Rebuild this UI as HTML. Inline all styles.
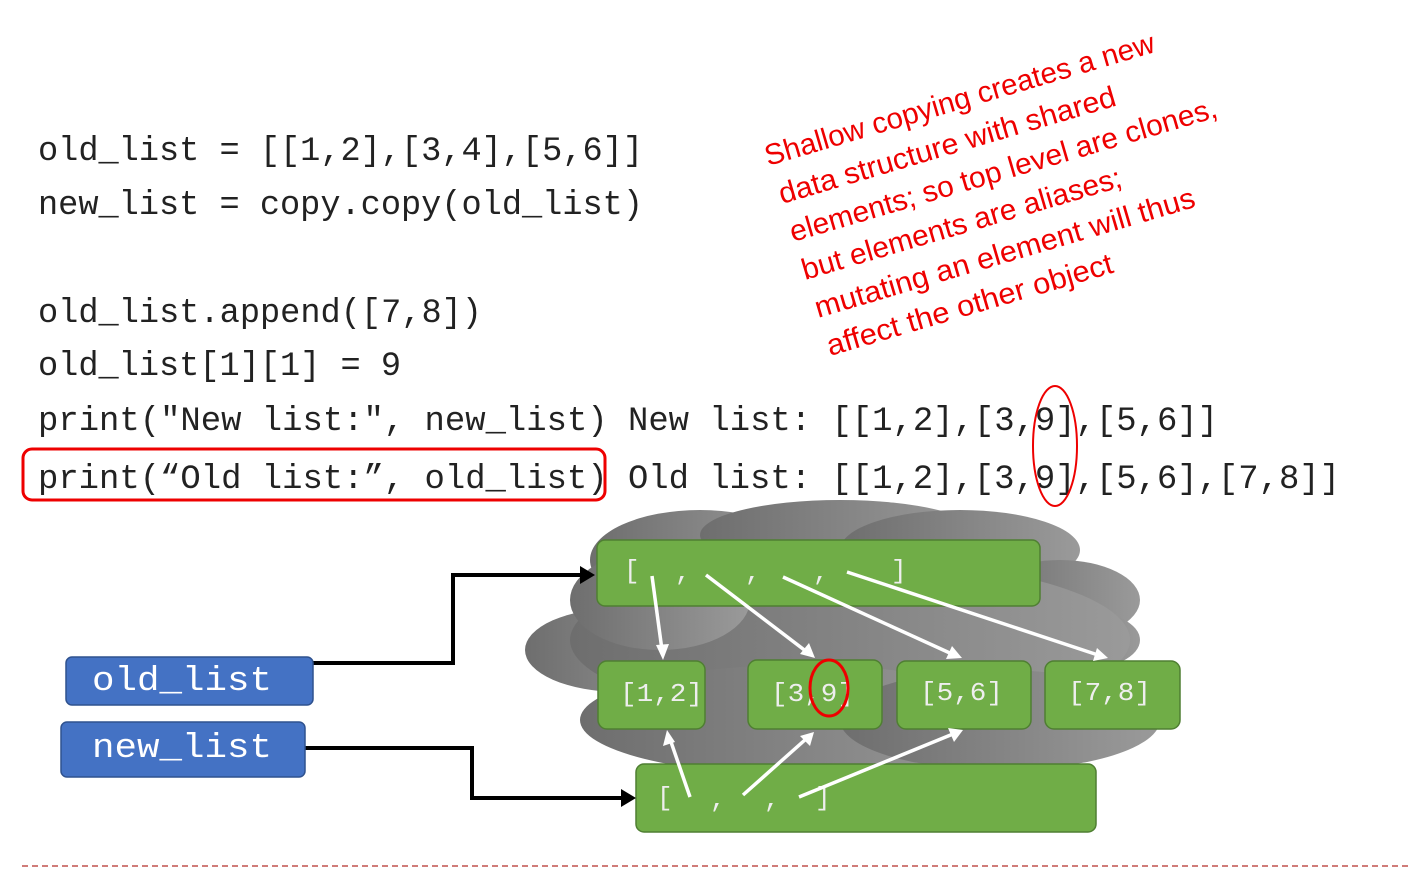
<!DOCTYPE html>
<html><head><meta charset="utf-8"><style>
html,body{margin:0;padding:0;background:#fff;}
svg{display:block;}
</style></head><body>
<svg width="1411" height="872" xmlns="http://www.w3.org/2000/svg">
<defs>
<linearGradient id="cg" x1="0" y1="0" x2="1" y2="0">
<stop offset="0" stop-color="#6e6e6e"/><stop offset="1" stop-color="#9a9a9a"/>
</linearGradient>
</defs>

<g font-family="Liberation Mono, monospace" font-size="33.9" fill="#222">
<text x="38" y="160" textLength="605" lengthAdjust="spacingAndGlyphs">old_list = [[1,2],[3,4],[5,6]]</text>
<text x="38" y="214" textLength="605" lengthAdjust="spacingAndGlyphs">new_list = copy.copy(old_list)</text>
<text x="38" y="322" textLength="444" lengthAdjust="spacingAndGlyphs">old_list.append([7,8])</text>
<text x="38" y="375" textLength="363" lengthAdjust="spacingAndGlyphs">old_list[1][1] = 9</text>
<text x="38" y="430" textLength="1180" lengthAdjust="spacingAndGlyphs">print("New list:", new_list) New list: [[1,2],[3,9],[5,6]]</text>
<text x="38" y="488" textLength="1302" lengthAdjust="spacingAndGlyphs">print(“Old list:”, old_list) Old list: [[1,2],[3,9],[5,6],[7,8]]</text>
</g>
<rect x="23" y="449" width="582" height="51" rx="9" fill="none" stroke="#e00" stroke-width="3"/>
<ellipse cx="1055" cy="446" rx="22" ry="60" fill="none" stroke="#e00" stroke-width="2"/>

<g font-family="Liberation Sans, sans-serif" font-size="29.5" fill="#e00">
<text transform="translate(768,166) rotate(-16.4)" textLength="405" lengthAdjust="spacingAndGlyphs">Shallow copying creates a new</text>
<text transform="translate(782,204) rotate(-16.4)" textLength="350" lengthAdjust="spacingAndGlyphs">data structure with shared</text>
<text transform="translate(793,242) rotate(-16.4)" textLength="444" lengthAdjust="spacingAndGlyphs">elements; so top level are clones,</text>
<text transform="translate(805,280) rotate(-16.4)" textLength="332" lengthAdjust="spacingAndGlyphs">but elements are aliases;</text>
<text transform="translate(818,318) rotate(-16.4)" textLength="395" lengthAdjust="spacingAndGlyphs">mutating an element will thus</text>
<text transform="translate(830,356) rotate(-16.4)" textLength="297" lengthAdjust="spacingAndGlyphs">affect the other object</text>
</g>

<!-- cloud -->
<g fill="url(#cg)">
<ellipse cx="700" cy="560" rx="110" ry="50"/>
<ellipse cx="840" cy="535" rx="140" ry="35"/>
<ellipse cx="960" cy="550" rx="120" ry="40"/>
<ellipse cx="1060" cy="600" rx="80" ry="40"/>
<ellipse cx="1080" cy="640" rx="60" ry="30"/>
<ellipse cx="620" cy="650" rx="95" ry="42"/>
<ellipse cx="850" cy="640" rx="280" ry="80"/>
<ellipse cx="800" cy="720" rx="220" ry="55"/>
<ellipse cx="1000" cy="720" rx="160" ry="50"/>
<ellipse cx="660" cy="600" rx="90" ry="50"/>
</g>

<!-- green boxes -->
<g fill="#70ad47" stroke="#4f7f32" stroke-width="1.5">
<rect x="597" y="540" width="443" height="66" rx="8"/>
<rect x="598" y="661" width="107" height="68" rx="9"/>
<rect x="748" y="660" width="134" height="69" rx="9"/>
<rect x="897" y="661" width="134" height="68" rx="9"/>
<rect x="1045" y="661" width="135" height="68" rx="9"/>
<rect x="636" y="764" width="460" height="68" rx="8"/>
</g>
<g font-family="Liberation Mono, monospace" font-size="26" fill="#eee">
<text x="624" y="578">[</text><text x="675" y="580">,</text><text x="745" y="580">,</text><text x="813" y="580">,</text><text x="891" y="578">]</text>
<text x="620" y="701" textLength="83" lengthAdjust="spacingAndGlyphs">[1,2]</text>
<text x="771" y="701" textLength="83" lengthAdjust="spacingAndGlyphs">[3,9]</text>
<text x="920" y="700" textLength="83" lengthAdjust="spacingAndGlyphs">[5,6]</text>
<text x="1068" y="700" textLength="83" lengthAdjust="spacingAndGlyphs">[7,8]</text>
<text x="657" y="805">[</text><text x="710" y="807">,</text><text x="764" y="807">,</text><text x="815" y="805">]</text>
</g>
<ellipse cx="829" cy="688" rx="19" ry="28" fill="none" stroke="#e00" stroke-width="3"/>

<!-- white arrows -->
<g stroke="#fff" stroke-width="3.5" fill="none">
<line x1="652" y1="576" x2="662" y2="650"/>
<line x1="706" y1="575" x2="807" y2="652"/>
<line x1="783" y1="577" x2="952" y2="654"/>
<line x1="847" y1="572" x2="1098" y2="655"/>
<line x1="690" y1="797" x2="670" y2="739"/>
<line x1="743" y1="795" x2="806" y2="739"/>
<line x1="799" y1="797" x2="953" y2="734"/>
</g>
<g fill="#fff">
<polygon points="663,660 656,645 669,644"/>
<polygon points="815,658 800,654 809,643"/>
<polygon points="962,658 946,659 952,646"/>
<polygon points="1108,658 1093,661 1097,648"/>
<polygon points="667,730 663,746 675,742"/>
<polygon points="814,732 800,736 810,746"/>
<polygon points="963,730 948,728 954,742"/>
</g>

<!-- black connectors -->
<polyline points="313,663 453,663 453,575 582,575" fill="none" stroke="#000" stroke-width="4"/>
<polygon points="595,575 580,566 580,584" fill="#000"/>
<polyline points="305,748 472,748 472,798 622,798" fill="none" stroke="#000" stroke-width="4"/>
<polygon points="636,798 621,789 621,807" fill="#000"/>

<!-- blue boxes -->
<rect x="66" y="657" width="247" height="48" rx="6" fill="#4472c4" stroke="#2f528f" stroke-width="1.5"/>
<rect x="61" y="722" width="244" height="55" rx="6" fill="#4472c4" stroke="#2f528f" stroke-width="1.5"/>
<g font-family="Liberation Mono, monospace" font-size="34" fill="#fff">
<text x="92" y="690" textLength="180" lengthAdjust="spacingAndGlyphs">old_list</text>
<text x="92" y="757" textLength="180" lengthAdjust="spacingAndGlyphs">new_list</text>
</g>

<line x1="22" y1="866" x2="1411" y2="866" stroke="#c0504d" stroke-width="1.5" stroke-dasharray="6,4"/>
</svg>
</body></html>
